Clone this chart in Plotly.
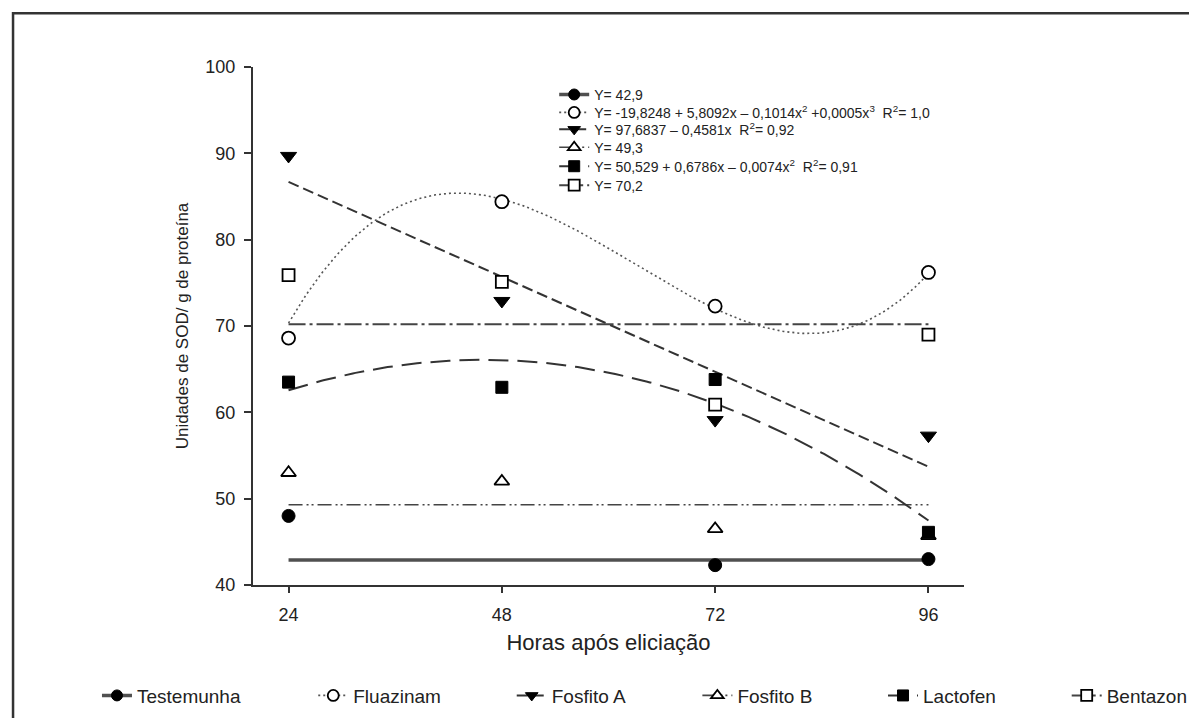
import numpy as np
import plotly.graph_objects as go

# ---------------- data ----------------
hours = [24, 48, 72, 96]
tick_labels = ["24", "48", "72", "96"]
y_ticks = [40, 50, 60, 70, 80, 90, 100]

names = ["Testemunha", "Fluazinam", "Fosfito A", "Fosfito B", "Lactofen", "Bentazon"]

testemunha = [48.0, 38.4, 42.3, 43.0]
fluazinam = [68.6, 84.4, 72.3, 76.2]
fosfito_a = [89.7, 72.9, 59.1, 57.3]
fosfito_b = [53.0, 52.0, 46.5, 45.7]
lactofen = [63.5, 62.9, 63.8, 46.1]
bentazon = [75.9, 75.1, 60.9, 69.0]

equations = [
    "Y= 42,9",
    "Y= -19,8248 + 5,8092x \u2013 0,1014x<sup>2</sup> +0,0005x<sup>3</sup>  R<sup>2</sup>= 1,0",
    "Y= 97,6837 \u2013 0,4581x  R<sup>2</sup>= 0,92",
    "Y= 49,3",
    "Y= 50,529 + 0,6786x \u2013 0,0074x<sup>2</sup>  R<sup>2</sup>= 0,91",
    "Y= 70,2",
]

# fitted models
const_testemunha = 42.9
const_fosfito_b = 49.3
const_bentazon = 70.2
coef_fosfito_a = [97.6837, -0.4581]
coef_lactofen = [50.529, 0.6786, -0.0074]
# cubic curve of Fluazinam as drawn in the figure
fluazinam_curve_x = [24, 44, 52, 63, 72, 84, 96]
fluazinam_curve_y = [70.4, 85.0, 83.5, 77.4, 72.0, 68.9, 76.2]

# ---------------- curves ----------------
xc = np.linspace(24, 96, 240)
fl_poly = np.polyfit(fluazinam_curve_x, fluazinam_curve_y, 3)
curves = [
    np.full_like(xc, const_testemunha),
    np.polyval(fl_poly, xc),
    coef_fosfito_a[0] + coef_fosfito_a[1] * xc,
    np.full_like(xc, const_fosfito_b),
    coef_lactofen[0] + coef_lactofen[1] * xc + coef_lactofen[2] * xc ** 2,
    np.full_like(xc, const_bentazon),
]
points = [testemunha, fluazinam, fosfito_a, fosfito_b, lactofen, bentazon]

line_styles = [
    dict(color="#505050", width=3.5, dash="solid"),
    dict(color="#555555", width=1.6, dash="2px,3px"),
    dict(color="#333333", width=2, dash="11px,5px"),
    dict(color="#444444", width=1.6, dash="14px,4px,2px,3px,2px,4px"),
    dict(color="#333333", width=2, dash="20px,9px"),
    dict(color="#444444", width=2, dash="17px,4px,3px,4px"),
]
marker_styles = [
    dict(symbol="circle", size=13, color="black", line=dict(color="black", width=1)),
    dict(symbol="circle", size=13, color="white", line=dict(color="black", width=1.8)),
    dict(symbol="triangle-down", size=14, color="black", line=dict(color="black", width=1)),
    dict(symbol="triangle-up", size=13, color="white", line=dict(color="black", width=1.8)),
    dict(symbol="square", size=12, color="black", line=dict(color="black", width=1)),
    dict(symbol="square", size=12, color="white", line=dict(color="black", width=1.8)),
]

# ---------------- geometry (screen px; page body has an 8px margin) ----------------
OFF = 8
W, H = 1197, 718
ML, MT = 253 - OFF, 67 - OFF
pw, ph = 720, 520
MR = W - ML - pw
MB = H - MT - ph

def px(xs):
    return (xs - OFF - ML) / pw

def py(ys):
    return (H - MB - (ys - OFF)) / ph

top_rows_y = [95, 113, 130, 148, 167, 186]
top_text_x = 598
bottom_text_x = [135, 354, 555, 743, 931, 1117]
bottom_row_y = 698

fig = go.Figure()

for i in range(6):
    fig.add_trace(go.Scatter(x=xc, y=curves[i], mode="lines", line=line_styles[i],
                             showlegend=False, hoverinfo="skip"))
for i in range(6):
    fig.add_trace(go.Scatter(x=hours, y=points[i], mode="markers", marker=marker_styles[i],
                             showlegend=False, name=names[i]))

legend_layouts = {}
top_font = dict(family="Liberation Sans, Arial, sans-serif", size=14, color="#222222")
bot_font = dict(family="Liberation Sans, Arial, sans-serif", size=19, color="#222222")
for i in range(6):
    key = "legend" if i == 0 else f"legend{i + 1}"
    ms = dict(marker_styles[i]); ms["size"] = 11
    fig.add_trace(go.Scatter(x=[None], y=[None], mode="lines+markers", line=line_styles[i],
                             marker=ms, name=equations[i], legend=key))
    legend_layouts[key] = dict(x=px(top_text_x - 40), y=py(top_rows_y[i]),
                               xanchor="left", yanchor="middle",
                               bgcolor="rgba(0,0,0,0)", borderwidth=0, font=top_font)
for i in range(6):
    key = f"legend{i + 7}"
    ms = dict(marker_styles[i]); ms["size"] = 11
    fig.add_trace(go.Scatter(x=[None], y=[None], mode="lines+markers", line=line_styles[i],
                             marker=ms, name=names[i], legend=key))
    legend_layouts[key] = dict(x=px(bottom_text_x[i] - 40), y=py(bottom_row_y),
                               xanchor="left", yanchor="middle",
                               bgcolor="rgba(0,0,0,0)", borderwidth=0, font=bot_font)

fig.update_layout(
    width=W, height=H,
    margin=dict(l=ML, r=MR, t=MT, b=MB),
    paper_bgcolor="white", plot_bgcolor="white",
    font=dict(family="Liberation Sans, Arial, sans-serif", color="#222222"),
    xaxis=dict(range=[20, 100], tickvals=hours, ticktext=tick_labels,
               showgrid=False, zeroline=False, showline=True, linecolor="#333333", linewidth=2,
               ticks="outside", ticklen=6, tickwidth=1.5, tickcolor="#333333",
               ticklabelstandoff=6,
               tickfont=dict(size=18, color="#222222"),
               title=dict(text="Horas após eliciação", font=dict(size=22, color="#222222"), standoff=11)),
    yaxis=dict(range=[40, 100], tickvals=y_ticks,
               showgrid=False, zeroline=False, showline=True, linecolor="#333333", linewidth=2,
               ticks="outside", ticklen=7, tickwidth=1.5, tickcolor="#333333",
               ticklabelstandoff=5,
               tickfont=dict(size=18, color="#222222"),
               title=dict(text="Unidades de SOD/ g de proteína", font=dict(size=17, color="#222222"), standoff=12)),
    shapes=[dict(type="rect", xref="paper", yref="paper",
                 x0=px(10), x1=px(1240), y0=py(13), y1=py(760),
                 line=dict(color="#333333", width=2.5), fillcolor="rgba(0,0,0,0)", layer="below")],
    **legend_layouts,
)

fig.write_html("out.html")
